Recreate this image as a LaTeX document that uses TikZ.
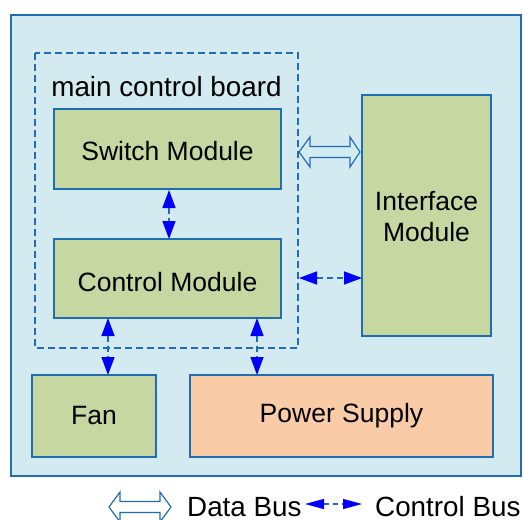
\documentclass[tikz,border=0pt]{standalone}
\usepackage{fontspec}
\setmainfont{Liberation Sans}
\usetikzlibrary{arrows.meta}
\definecolor{panelbg}{HTML}{D2EAF0}
\definecolor{edgeblue}{HTML}{1F6DB4}
\definecolor{modgreen}{HTML}{C6D7A1}
\definecolor{psuorange}{HTML}{F9CBA7}
\definecolor{ctrlblue}{HTML}{0000FF}
\tikzset{
  x=1pt, y=-1pt,
  lbl/.style={font=\fontsize{26.5}{31}\selectfont, text=black, align=center},
  biglbl/.style={font=\fontsize{27.8}{32}\selectfont, text=black},
  modbox/.style={draw=edgeblue, line width=2pt, fill=modgreen},
  psubox/.style={draw=edgeblue, line width=2pt, fill=psuorange},
  ctrlbus/.style={draw=edgeblue, line width=1.5pt, dash pattern=on 6pt off 4pt,
    {Triangle[length=18pt,width=13pt,color=ctrlblue]}-{Triangle[length=18pt,width=13pt,color=ctrlblue]}},
  databus/.style={draw=edgeblue, line width=1.2pt, line join=miter}
}
\begin{document}
\begin{tikzpicture}
\useasboundingbox (0,0) rectangle (523,520);
% enclosure
\draw[edgeblue, line width=2pt, fill=panelbg] (11,15) rectangle (521,476);
% main control board outline
\draw[edgeblue, line width=2.5pt, dash pattern=on 7pt off 4pt] (35,53) rectangle (298,348);
\node[biglbl] (mcb) at (166.5,87) {main control board};
% modules
\draw[modbox] (54,109) rectangle (281,189);
\node[lbl] (sw) at (167.5,151) {Switch Module};
\coordinate (swb) at (169,190);
\draw[modbox] (54,239) rectangle (281,318);
\node[lbl] (cm) at (167.5,282) {Control Module};
\coordinate (cmt) at (169,239);
\coordinate (cmr) at (299,278);
\coordinate (cmfan) at (108,318);
\coordinate (cmpsu) at (257,318);
\draw[modbox] (362,95) rectangle (491,336);
\node[lbl] (im) at (426.5,217) {Interface\\Module};
\coordinate (iml) at (362,278);
\draw[modbox] (32,375) rectangle (156,457);
\node[lbl] (fan) at (94,416) {Fan};
\coordinate (fant) at (108,375);
\draw[psubox] (190,375) rectangle (493,457);
\node[lbl] (psu) at (341.5,416) {Power Supply};
\coordinate (psut) at (257,375);
% control buses
\draw[ctrlbus] (swb) -- (cmt);
\draw[ctrlbus] (cmr) -- (iml);
\draw[ctrlbus] (cmfan) -- (fant);
\draw[ctrlbus] (cmpsu) -- (psut);
% data bus (hollow double arrow)
\draw[databus] (299,152) -- (310,137) -- (310,146.5) -- (350,146.5) -- (350,137) -- (360,152)
  -- (350,167) -- (350,157.5) -- (310,157.5) -- (310,167) -- cycle;
% legend
\draw[databus] (109,507) -- (120,492) -- (120,501.5) -- (160,501.5) -- (160,492) -- (171,507)
  -- (160,522) -- (160,512.5) -- (120,512.5) -- (120,522) -- cycle;
\node[biglbl, anchor=base west, inner sep=0pt, text depth=0pt] (ldata) at (187,516) {Data Bus};
\coordinate (lca) at (305,504);
\coordinate (lcb) at (362,504);
\draw[draw=edgeblue, line width=1.3pt, dash pattern=on 5pt off 4pt,
  {Triangle[length=19pt,width=10pt,color=ctrlblue]}-{Triangle[length=19pt,width=10pt,color=ctrlblue]}] (lca) -- (lcb);
\node[biglbl, anchor=base west, inner sep=0pt, text depth=0pt] (lctrl) at (375,516) {Control Bus};
\end{tikzpicture}
\end{document}
